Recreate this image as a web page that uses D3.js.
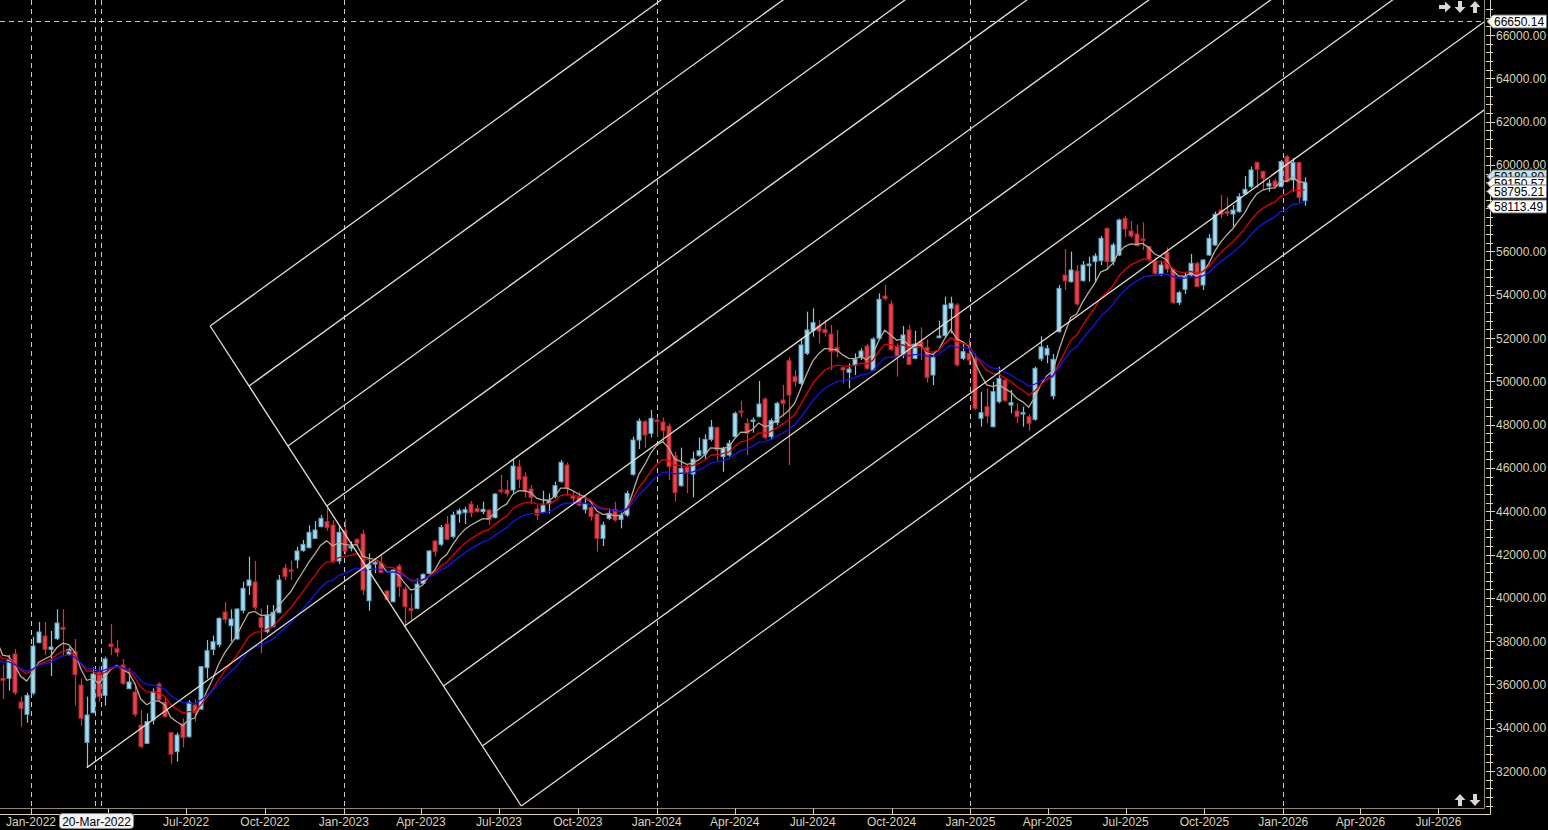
<!DOCTYPE html>
<html><head><meta charset="utf-8">
<script src="https://cdn.jsdelivr.net/npm/d3@7"></script>
<style>
html,body{margin:0;padding:0;background:#000;overflow:hidden}
svg{display:block;font-family:"Liberation Sans",Arial,sans-serif}
</style></head><body>
<svg id="c" width="1548" height="830"></svg>
<script>
// ---------------- DATA ----------------
const firstWeek = "2021-11-29"; // week start of first candle (weekly bars)
const opens = [36280,36280,37404,35187,34617,35602,37928,38236,37620,38113,38636,37404,37512,35972,33323,34694,36557,35495,37866,37651,
36896,35803,35649,34124,33277,34355,36018,35187,33770,32892,34186,33585,35048,34863,36773,37620,37835,39345,38713,38097,
39422,40561,40731,39083,38436,38667,39314,41378,41285,41747,42178,42317,42748,43287,43518,43364,41701,43102,42300,42702,
42948,39868,41562,41593,40315,39822,41470,40407,39514,39514,40669,41131,42625,42471,43410,42825,43872,43934,44334,44134,
43980,44057,43703,44981,44981,44981,46059,45596,45027,44103,43949,44365,44673,45366,46137,44704,44627,44087,44180,43872,
42748,43672,44087,43626,43826,45704,47290,48137,47598,48214,48122,47937,46552,45181,46028,45720,46582,46644,47321,47860,
46521,46598,47444,48630,48060,48152,48368,49184,47444,48091,49138,50955,50216,49908,51294,52341,52557,52403,52187,51571,
50632,50416,50755,51094,51632,50524,51987,53943,53573,51602,51263,52372,51063,51833,51571,50293,52018,52110,53373,53527,
51063,51294,51063,48291,48830,47906,49061,50062,48907,48630,48491,48368,48245,51040,51217,49323,52295,54913,54605,55098,
54651,55344,55529,55575,57069,55529,55837,57531,56946,56807,56576,56222,55560,54959,55960,55175,53635,54251,54913,55452,
54451,55837,56299,57916,57839,57731,57839,58655,58994,60118,59702,59025,59256,58994,60380,59302,60103,58347];
const highs = [36896,37358,37635,35433,35618,38205,38883,38883,38467,39468,39468,37713,38097,36280,35433,36788,36819,37281,38790,38051,
37173,36742,36049,34817,34663,35818,36095,35433,33816,33770,34432,35279,35310,36850,38051,38251,39098,39807,39468,39514,
40746,41901,41701,39514,39668,39668,41054,41563,41717,42363,42671,43349,43549,43826,44134,43595,43318,43626,42600,42748,
43133,42055,41747,41978,40361,41316,41563,40515,40207,40900,41131,42209,42671,43364,43780,43980,44134,44211,44473,44288,
44442,44088,44827,45674,45443,46398,46367,45797,45212,44288,44950,44827,45366,46367,46260,44904,44904,44673,44257,43903,
43518,44134,44442,43934,44950,47444,48291,48214,48676,48337,48337,48060,46752,46937,46136,46752,47398,47552,48214,47906,
46983,47290,48599,49107,48291,48337,50016,49261,48291,49061,49831,51109,50524,51987,53219,53373,52834,52834,52603,52372,
50678,50832,51294,51525,51725,52033,54066,54451,53727,51756,52557,52603,52341,52495,51941,51263,52803,53912,53912,53604,
51725,51987,51294,49523,49677,49985,50678,50093,49600,48984,48830,48491,50678,52080,51679,51263,54451,56114,55991,55375,
55560,55760,55914,56715,57115,56407,57516,57639,57408,57223,57346,56253,55729,55575,56191,55221,54174,55021,55883,55529,
55652,56807,57839,58609,58501,58147,58686,59487,59918,60149,59733,59333,59379,60226,60457,60303,60149,59425];
const lows = [35326,35710,35510,34047,34232,35510,37897,37358,36388,38051,37358,37358,35017,34093,32153,34663,35202,35017,37358,37281,
35972,35787,34509,33046,33246,34155,35248,34463,32307,32430,33092,33539,34278,34817,36280,37358,37713,38821,37974,38082,
39283,40130,39437,37435,38359,38636,39283,40823,40823,41362,42132,42286,42717,43256,43102,41593,41562,41978,42150,42363,
40130,39406,41131,41131,39899,39791,40053,38667,38975,39468,40638,41100,41901,42394,42671,42748,43472,43410,43718,43934,
43872,43364,43672,44827,44673,44827,45058,44642,44334,43595,43903,43903,44596,45319,44719,44334,44211,43903,43564,42132,
42394,43595,43518,43210,43749,45643,46875,46936,47413,47444,47136,45443,44442,45134,44827,44642,46521,46367,47229,46336,
45826,46521,47367,48337,46598,47629,48337,47321,47290,47983,48368,46135,49754,49831,51217,52064,51756,52064,50524,51109,
49908,49677,50293,50986,50524,50493,51910,53727,51402,50216,51063,50755,51017,50986,49939,49831,51987,52064,52218,50678,
50986,50755,48676,47906,48060,47875,48984,49061,48522,48060,47906,47721,48183,50930,50832,49169,52249,54220,54559,53496,
54605,54605,54605,55375,55144,55375,55791,56653,56607,56222,56068,55529,54867,54867,55021,53573,53527,54035,54836,54343,
54220,55791,56253,57531,57639,57146,57793,58609,58917,58917,58840,58763,58917,58963,59194,58763,58270,58117];
const closes = [36188,37127,35618,34878,35495,37774,38421,37620,37728,38836,38544,37620,36449,34432,34586,36480,35433,37173,37743,37481,
36049,36111,34617,33123,34278,35664,35310,34509,32769,33662,33539,35171,34694,36819,37558,37974,39052,39006,39021,39483,
40438,40823,39560,38636,39206,39329,40823,40977,41224,42163,42471,43025,43133,43672,43241,41670,43025,42163,42371,42517,
40361,41516,41640,41162,39930,41285,40515,39591,39406,40638,41085,42163,42132,43256,42702,43826,44026,44072,43934,43980,
44088,43626,44797,44904,44827,46090,45474,44904,44642,43826,44257,44473,45181,46260,45058,44596,44288,44334,43749,42748,
43364,43903,43595,43826,44827,47290,48168,47521,48291,48137,47721,46059,44857,45982,45750,46413,46798,47321,47891,46829,
46906,47136,48522,48568,47598,48214,48953,47413,48183,48984,48984,49369,49985,51679,52372,52711,52326,52249,51371,51371,
50524,50570,51017,51402,50601,51956,53789,53820,51479,51171,52141,50786,51725,51633,50185,51109,52095,53527,53604,50755,
51371,50986,48753,48553,48399,49523,50139,49107,49015,48368,48553,48060,50601,51590,51525,51017,54297,54636,55144,53573,
55375,55421,55791,56607,55529,56299,57454,57038,56715,56268,56499,55606,54990,55375,55190,53635,54097,54836,55452,54374,
55606,56607,57716,57716,57762,57916,58532,58871,59764,59795,59379,59148,58994,60149,59225,60103,58502,59180.8];

// moving averages: [period, value at chart's left edge]
const maGrey = [7, 37743];
const maRed  = [13, 37358];
const maBlue = [20, 37127];

const yTickValues = d3.range(32000, 66001, 2000);
const xTickDates = ["2022-01-01","2022-04-01","2022-07-01","2022-10-01","2023-01-01","2023-04-01","2023-07-01","2023-10-01",
  "2024-01-01","2024-04-01","2024-07-01","2024-10-01","2025-01-01","2025-04-01","2025-07-01","2025-10-01",
  "2026-01-01","2026-04-01","2026-07-01"];
const vDashDates = ["2022-01-01","2022-03-17","2022-03-24","2023-01-01","2024-01-01","2025-01-01","2026-01-01"];
const crossPrice = 66650.14;
const crossDateLabel = "20-Mar-2022";
const priceTags = [[59180.80,"59180.80","#bfe3f2"],[59150.57,"59150.57","#ffffff"],[58795.21,"58795.21","#ffffff"],[58113.49,"58113.49","#ffffff"]];

// parallel channel: perpendicular from fanTop to fanBottom, lines parallel to low->midpoint
const fanTop = ["2022-07-29", 52557];
const fanBottom = ["2023-07-27", 30383];
const fanLow = ["2022-03-07", 32153];
const fanLines = 9;

// ---------------- CHART ----------------
const W = 1548, H = 830, plotR = 1484.5, plotB = 808.5;
const parse = d3.utcParse("%Y-%m-%d");
const d0 = parse(firstWeek);
const dates = closes.map((_, i) => d3.utcDay.offset(d0, 7 * i));
const dayMs = 864e5;
const dEnd = d3.utcDay.offset(d0, 2100);
const x = d3.scaleUtc().domain([d0, dEnd]).range([2.7, 2.7 + 2100 * 6 / 7]);
const y = d3.scaleLinear().domain([32000, 66000]).range([771, 35]);

const svg = d3.select("#c");
svg.append("rect").attr("width", W).attr("height", H).attr("fill", "#000");
svg.append("clipPath").attr("id", "pc").append("rect").attr("x", 0).attr("y", 0).attr("width", plotR).attr("height", plotB);
const plot = svg.append("g").attr("clip-path", "url(#pc)");

// dashed verticals
plot.selectAll("line.vd").data(vDashDates).join("line")
  .attr("x1", d => Math.round(x(parse(d))) + 0.5).attr("x2", d => Math.round(x(parse(d))) + 0.5)
  .attr("y1", 0).attr("y2", plotB).attr("stroke", "#c8c8c8").attr("stroke-width", 1).attr("stroke-dasharray", "5,4");
// dashed horizontal crosshair
plot.append("line").attr("x1", 0).attr("x2", plotR).attr("y1", Math.round(y(crossPrice)) + 0.5).attr("y2", Math.round(y(crossPrice)) + 0.5)
  .attr("stroke", "#c8c8c8").attr("stroke-dasharray", "5,4");

// candles
const g = plot.append("g");
const bw = 5;
const isUp = i => closes[i] >= opens[i];
g.selectAll("line.w").data(closes).join("line")
  .attr("x1", (d, i) => Math.round(x(dates[i])) + 0.5).attr("x2", (d, i) => Math.round(x(dates[i])) + 0.5)
  .attr("y1", (d, i) => y(highs[i])).attr("y2", (d, i) => y(lows[i]))
  .attr("stroke", (d, i) => isUp(i) ? "#7cc8ee" : "#ff2626").attr("stroke-width", 1.2);
g.selectAll("rect.b").data(closes).join("rect")
  .attr("x", (d, i) => Math.round(x(dates[i])) - 2)
  .attr("width", bw - 1)
  .attr("y", (d, i) => y(Math.max(opens[i], closes[i])))
  .attr("height", (d, i) => Math.max(1, Math.abs(y(opens[i]) - y(closes[i]))))
  .attr("fill", (d, i) => isUp(i) ? "#a9d9ec" : "#e8434d")
  .attr("stroke", (d, i) => isUp(i) ? "#5fa6c6" : "#b0262c").attr("stroke-width", 1);

// moving averages (exponential, seeded with the value read at the left edge)
function ema(vals, p, seed) { const a = 2 / (p + 1); let e = seed; return vals.map(v => (e = a * v + (1 - a) * e)); }
const line = d3.line().x(d => x(d[0])).y(d => y(d[1]));
[[maGrey, "#b4ae98"], [maRed, "#e00000"], [maBlue, "#1414f0"]].forEach(([m, col]) => {
  const vals = ema(closes, m[0], m[1]);
  const pts = [[d3.utcDay.offset(d0, -4), m[1]]].concat(vals.map((v, i) => [dates[i], v]));
  plot.append("path").attr("d", line(pts)).attr("fill", "none").attr("stroke", col).attr("stroke-width", 1.3);
});

// channel lines
const tA = parse(fanTop[0]), tB = parse(fanBottom[0]), tL = parse(fanLow[0]);
const midT = new Date((+tA + +tB) / 2), midP = (fanTop[1] + fanBottom[1]) / 2;
const slope = (midP - fanLow[1]) / ((midT - tL) / dayMs);
const farT = d3.utcDay.offset(d0, 2000);
const fanCol = "#e4e0d2";
plot.append("line").attr("x1", x(tA)).attr("y1", y(fanTop[1])).attr("x2", x(tB)).attr("y2", y(fanBottom[1]))
  .attr("stroke", fanCol).attr("stroke-width", 1.3);
for (let k = 0; k < fanLines; k++) {
  const f = k / (fanLines - 1);
  const t0 = new Date(+tA + f * (tB - tA)), p0 = fanTop[1] + f * (fanBottom[1] - fanTop[1]);
  const startT = (k === (fanLines - 1) / 2) ? tL : t0;
  const startP = (k === (fanLines - 1) / 2) ? fanLow[1] : p0;
  const p1 = p0 + slope * ((farT - t0) / dayMs);
  plot.append("line").attr("x1", x(startT)).attr("y1", y(startP)).attr("x2", x(farT)).attr("y2", y(p1))
    .attr("stroke", fanCol).attr("stroke-width", 1.3);
}

// frame + axes
const axCol = "#d9d4b4";
svg.append("path").attr("d", `M0,${plotB}H${plotR}V0`).attr("fill", "none").attr("stroke", "#8a8670").attr("stroke-width", 1);
svg.append("line").attr("x1", 1490.5).attr("x2", 1490.5).attr("y1", 0).attr("y2", 814.5).attr("stroke", axCol);
svg.append("line").attr("x1", 0).attr("x2", 1490.5).attr("y1", 814.5).attr("y2", 814.5).attr("stroke", axCol);
const minor = d3.range(30400, 67600, 400);
svg.selectAll("line.ym").data(minor).join("line")
  .attr("x1", 1486).attr("x2", d => d % 2000 === 0 ? 1495 : 1493)
  .attr("y1", d => Math.round(y(d)) + 0.5).attr("y2", d => Math.round(y(d)) + 0.5)
  .attr("stroke", axCol).style("display", d => y(d) > 810 || y(d) < 0 ? "none" : null);
svg.selectAll("text.yl").data(yTickValues).join("text")
  .attr("x", 1496).attr("y", d => y(d) + 4.5).attr("fill", axCol).attr("font-size", 12)
  .text(d => d.toFixed(2));
svg.selectAll("line.xt").data(xTickDates).join("line")
  .attr("x1", d => Math.round(x(parse(d))) + 0.5).attr("x2", d => Math.round(x(parse(d))) + 0.5)
  .attr("y1", plotB).attr("y2", 814.5).attr("stroke", axCol);
const fmt = d3.utcFormat("%b-%Y");
svg.selectAll("text.xl").data(xTickDates.filter(d => d !== "2022-04-01")).join("text")
  .attr("x", d => x(parse(d))).attr("y", 826).attr("text-anchor", "middle")
  .attr("fill", axCol).attr("font-size", 12).text(d => fmt(parse(d)));
const cl = svg.append("g");
cl.append("rect").attr("x", 59.5).attr("y", 813.5).attr("width", 74).attr("height", 15).attr("rx", 3)
  .attr("fill", "#f2f2f2").attr("stroke", "#888");
cl.append("text").attr("x", 96.5).attr("y", 825.5).attr("text-anchor", "middle").attr("font-size", 12).attr("fill", "#000").text(crossDateLabel);

// right price tags (stacked upward when they would collide, as the terminal does)
function tag(yy, txt, fill) {
  yy = Math.round(yy) + 0.5;
  const gg = svg.append("g");
  gg.append("path").attr("d", `M1487,${yy}L1493,${yy - 6.5}H1546.5V${yy + 6.5}H1493Z`).attr("fill", fill).attr("stroke", "#707070");
  gg.append("text").attr("x", 1494).attr("y", yy + 4.5).attr("font-size", 12).attr("fill", "#000").text(txt);
}
tag(y(crossPrice), crossPrice.toFixed(2), "#ffffff");
const tagYs = priceTags.map(t => y(t[0]));
for (let i = tagYs.length - 2; i >= 0; i--) if (tagYs[i + 1] - tagYs[i] < 7) tagYs[i] = tagYs[i + 1] - 7;
priceTags.forEach((t, i) => tag(tagYs[i], t[1], t[2]));

// arrow icons
function arrow(cx, cy, dir) {
  const r = {up: 0, down: 180, right: 90}[dir];
  svg.append("path").attr("d", "M0,-6L5.5,0H2V6H-2V0H-5.5Z").attr("fill", "#d6d6d6")
    .attr("transform", `translate(${cx},${cy}) rotate(${r})`);
}
arrow(1445, 7, "right"); arrow(1460, 7, "down"); arrow(1475, 7, "up");
arrow(1460, 800, "up"); arrow(1475, 800, "down");
</script>
</body></html>
